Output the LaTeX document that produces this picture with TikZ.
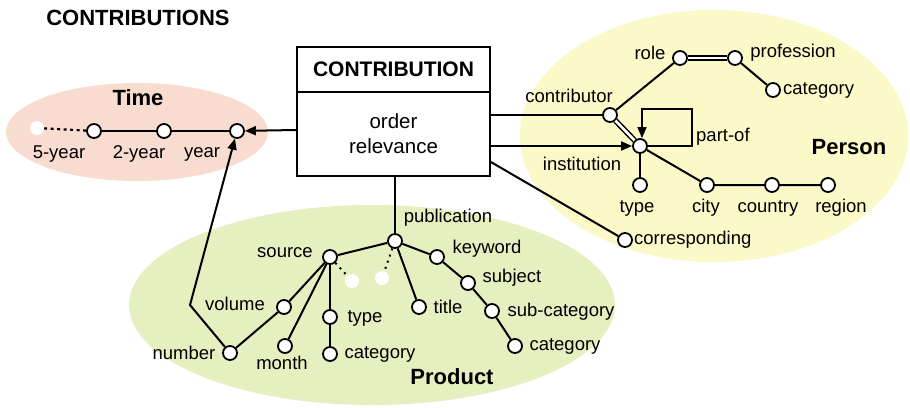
\documentclass[tikz,border=0pt]{standalone}
\usepackage{fontspec}
\setmainfont{Liberation Sans}
\usetikzlibrary{arrows.meta,backgrounds}
\definecolor{timepink}{HTML}{F9DCD0}
\definecolor{personyellow}{HTML}{FBF9C8}
\definecolor{productgreen}{HTML}{E6EFC0}
\begin{document}
\begin{tikzpicture}[x=1pt,y=-1pt,
  dot/.style={circle,draw=black,fill=white,line width=1.8pt,minimum size=14pt,inner sep=0pt},
  ghost/.style={circle,fill=white,draw=none,minimum size=14pt,inner sep=0pt},
  lbl/.style={font=\fontsize{18.5}{20}\selectfont,inner sep=0pt},
  ttl/.style={font=\fontsize{22}{24}\selectfont\bfseries,inner sep=0pt},
  conn/.style={line width=2pt},
  arr/.style={line width=2pt,-{Triangle[length=11pt,width=9pt]}},
  dbl/.style={line width=1.5pt,double=white,double distance=2.6pt},
  dashline/.style={line width=2.2pt,dash pattern=on 3pt off 3.5pt},
  dotline/.style={line width=2pt,dash pattern=on 2pt off 4.5pt}]
\useasboundingbox (0,0) rectangle (910,407);
\fill[white] (0,0) rectangle (910,407);
% region ellipses
\fill[timepink] (137,132) ellipse [x radius=131, y radius=49];
\fill[personyellow] (714,136) ellipse [x radius=194, y radius=126];
\fill[productgreen] (372,305) ellipse [x radius=243, y radius=100];

% title
\node[ttl] (title) at (138,18) {CONTRIBUTIONS};

% central entity
\node[draw,line width=1.8pt,minimum width=193pt,minimum height=45pt,inner sep=0pt,
      font=\fontsize{21}{23}\selectfont\bfseries] (head) at (393.5,69.5) {CONTRIBUTION};
\node[draw,line width=1.8pt,minimum width=193pt,minimum height=84pt,inner sep=0pt,
      align=center,font=\fontsize{20.5}{25}\selectfont] (body) at (393.5,134) {order\\relevance};

% Time
\node[ttl] (timelbl) at (138,98) {Time};
\node[ghost] (t0) at (37,128) {};
\node[dot] (t5) at (94,131) {};
\node[dot] (t2) at (164,131) {};
\node[dot] (ty) at (237,131) {};
\node[lbl] (l5) at (59,154) {5-year};
\node[lbl] (l2) at (139,154) {2-year};
\node[lbl] (ly) at (202,154) {year};
\draw[dashline] (t0) -- (t5);
\draw[conn] (t5) -- (t2) -- (ty);

% Person
\node[ttl] (personlbl) at (849,147) {Person};
\node[dot] (pc) at (610,115) {};
\node[dot] (prole) at (680,58) {};
\node[dot] (pprof) at (735,58) {};
\node[dot] (pcat) at (773,90) {};
\node[dot] (pi) at (640,146) {};
\node[dot] (ptype) at (640,185) {};
\node[dot] (pcity) at (707,185) {};
\node[dot] (pcountry) at (772,185) {};
\node[dot] (pregion) at (828,185) {};
\node[dot] (pcor) at (625,240) {};
\node[lbl] (lcontrib) at (569,96) {contributor};
\node[lbl] (lrole) at (650,53) {role};
\node[lbl] (lprof) at (793,53) {profession};
\node[lbl,anchor=west] (lpcat) at (783,90) {category};
\node[lbl] (linst) at (582,164) {institution};
\node[lbl,anchor=west] (lpartof) at (696,137) {part-of};
\node[lbl] (lptype) at (637,208) {type};
\node[lbl] (lcity) at (706,208) {city};
\node[lbl] (lcountry) at (768,208) {country};
\node[lbl] (lregion) at (841,208) {region};
\node[lbl,anchor=west] (lcor) at (634,240) {corresponding};
\draw[conn] (pc) -- (prole);
\draw[dbl] (prole) -- (pprof);
\draw[conn] (pprof) -- (pcat);
\draw[dbl] (pc) -- (pi);
\draw[conn] (pi) -- (ptype);
\draw[conn] (pi) -- (pcity) -- (pcountry) -- (pregion);
\coordinate (lp1) at (692,146);
\coordinate (lp2) at (692,109);
\coordinate (lp3) at (642,109);
\draw[line width=1.6pt,-{Triangle[length=11pt,width=9pt]}] (pi.east) -- (lp1) -- (lp2) -- (lp3) -- (lp3 |- pi.north);

% Product
\node[ttl] (productlbl) at (452,377) {Product};
\node[dot] (pub) at (395,241) {};
\node[dot] (src) at (330,257) {};
\node[dot] (kw) at (437,257) {};
\node[dot] (subj) at (468,283) {};
\node[dot] (subc) at (492,311) {};
\node[dot] (pcat2) at (515,346) {};
\node[dot] (ttlnode) at (419,307) {};
\node[dot] (vol) at (284,307) {};
\node[dot] (num) at (230,353) {};
\node[dot] (month) at (285,346) {};
\node[dot] (ptype2) at (330,317) {};
\node[dot] (pcat3) at (330,354) {};
\node[ghost] (wd1) at (352,281) {};
\node[ghost] (wd2) at (382,278) {};
\node[lbl] (lpub) at (448,218) {publication};
\node[lbl] (lsrc) at (285,253) {source};
\node[lbl] (lkw) at (487,249) {keyword};
\node[lbl] (lsubj) at (512,278) {subject};
\node[lbl] (lsubc) at (561,312) {sub-category};
\node[lbl] (lpcat2) at (565,346) {category};
\node[lbl] (ltitle) at (448,307) {title};
\node[lbl] (lvol) at (235,304) {volume};
\node[lbl] (lnum) at (184,353) {number};
\node[lbl] (lmonth) at (282,363) {month};
\node[lbl] (lptype2) at (365,318) {type};
\node[lbl] (lpcat3) at (380,354) {category};
\draw[conn] (src) -- (pub);
\draw[conn] (pub) -- (kw) -- (subj) -- (subc) -- (pcat2);
\draw[conn] (pub) -- (ttlnode);
\draw[conn] (src) -- (vol) -- (num);
\draw[conn] (src) -- (month);
\draw[conn] (src) -- (ptype2) -- (pcat3);
\draw[dotline] (src) -- (wd1);
\draw[dotline] (pub) -- (wd2);

% connectors from the central entity
\draw[arr] ([yshift=4pt]body.west) -- (ty);
\draw[conn] (body.east |- pc) -- (pc);
\draw[arr] (body.east |- pi) -- (pi);
\draw[conn] ([yshift=-28pt]body.east) -- (pcor);
\draw[conn] (body.south -| pub) -- (pub);
\coordinate (bend) at (190,305);
\draw[arr] (num) -- (bend) -- (ty);
\end{tikzpicture}
\end{document}
